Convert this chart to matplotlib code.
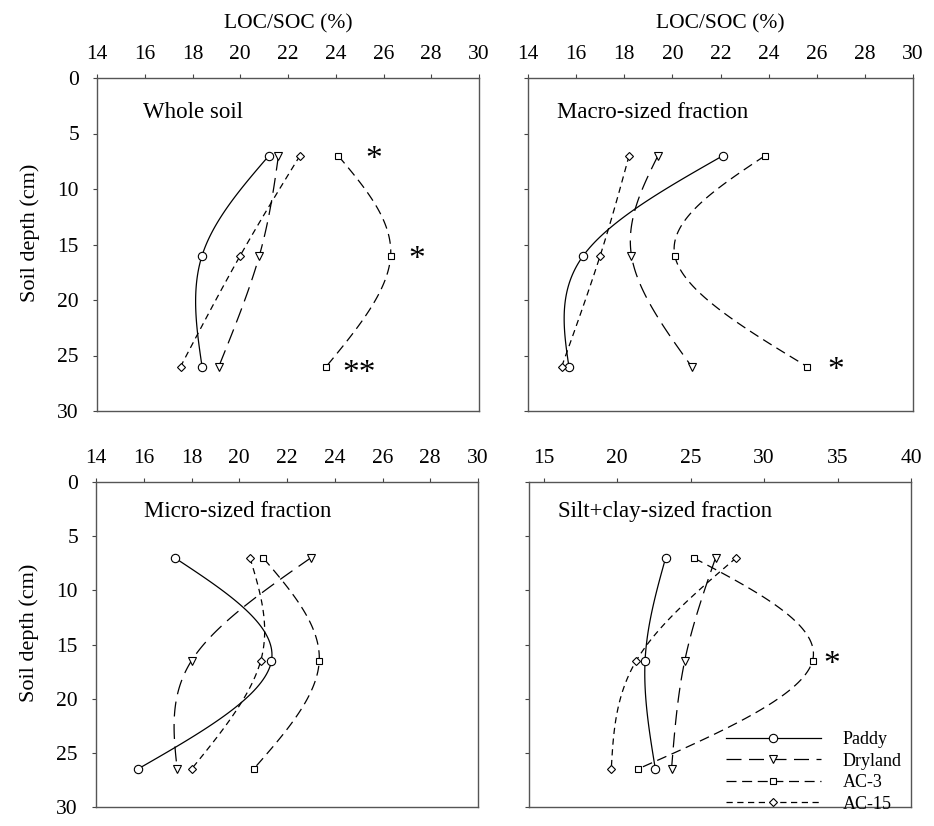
import numpy as np
import matplotlib
matplotlib.use('Agg')
import matplotlib.pyplot as plt

plt.rcParams['font.family'] = ['Liberation Serif', 'DejaVu Serif']

# sampling depths (cm) as plotted in the two rows
depth_top = [7, 16, 26]
depth_bottom = [7, 16.5, 26.5]

series = ['Paddy', 'Dryland', 'AC-3', 'AC-15']

# LOC/SOC (%) for each treatment
whole = {'Paddy': [21.2, 18.4, 18.4], 'Dryland': [21.6, 20.8, 19.1],
         'AC-3': [24.1, 26.3, 23.6], 'AC-15': [22.5, 20.0, 17.5]}
macro = {'Paddy': [22.1, 16.3, 15.7], 'Dryland': [19.4, 18.3, 20.8],
         'AC-3': [23.85, 20.1, 25.6], 'AC-15': [18.2, 17.0, 15.4]}
micro = {'Paddy': [17.3, 21.35, 15.75], 'Dryland': [23.0, 18.0, 17.4],
         'AC-3': [21.0, 23.35, 20.6], 'AC-15': [20.45, 20.9, 18.0]}
siltclay = {'Paddy': [23.3, 21.9, 22.6], 'Dryland': [26.7, 24.6, 23.7],
            'AC-3': [25.2, 33.3, 21.4], 'AC-15': [28.1, 21.3, 19.6]}

# significance marks: (text, LOC/SOC, depth)
marks_whole = [('*', 25.6, 7), ('*', 27.4, 16), ('**', 25.0, 26.3)]
marks_macro = [('*', 26.8, 26)]
marks_micro = []
marks_siltclay = [('*', 34.6, 16.5)]

styles = {
    'Paddy': dict(ls='-', marker='o', ms=6),
    'Dryland': dict(ls=(0, (12, 6)), marker='v', ms=6),
    'AC-3': dict(ls=(0, (8, 4.5)), marker='s', ms=5),
    'AC-15': dict(ls=(0, (5, 3.6)), marker='D', ms=4.5),
}

W, H = 934, 826
fig = plt.figure(figsize=(W / 100, H / 100), dpi=100)


def box(x0, y0, x1, y1):
    return [x0 / W, 1 - y1 / H, (x1 - x0) / W, (y1 - y0) / H]


def spline3(p):
    # natural cubic spline through 3 points, parameter t = 0, 1, 2
    p0, p1, p2 = p
    m1 = 1.5 * (p0 - 2 * p1 + p2)
    s = np.linspace(0, 1, 40)
    seg1 = p0 + ((p1 - p0) - m1 / 6) * s + (m1 / 6) * s ** 3
    seg2 = p1 + ((p2 - p1) - m1 / 3) * s + (m1 / 2) * s ** 2 - (m1 / 6) * s ** 3
    return np.concatenate([seg1, seg2[1:]])


def panel(rect, data, depth, title, tpos, marks, xlim, xticks, ylabels, xlabel):
    ax = fig.add_axes(rect)
    for name in series:
        st = styles[name]
        ax.plot(spline3(data[name]), spline3(depth), color='black', lw=0.9, ls=st['ls'])
        ax.plot(data[name], depth, ls='none', marker=st['marker'], ms=st['ms'],
                mfc='white', mec='black', mew=0.8)
        ax.plot([], [], color='black', lw=0.9, ls=st['ls'], marker=st['marker'],
                ms=st['ms'], mfc='white', mec='black', mew=0.8, label=name)
    ax.set_xlim(*xlim)
    ax.set_ylim(30, 0)
    ax.set_xticks(xticks)
    ax.set_yticks(range(0, 31, 5))
    ax.xaxis.tick_top()
    ax.tick_params(axis='both', direction='out', length=3, width=0.8,
                   colors='#444444', labelcolor='black', labelsize=15.5)
    ax.tick_params(axis='x', pad=7)
    ax.tick_params(axis='y', pad=10)
    if not ylabels:
        ax.set_yticklabels([])
    else:
        ax.set_ylabel('Soil depth (cm)', fontsize=16)
        ax.yaxis.set_label_coords(-0.148, 0.535)
    if xlabel:
        ax.set_xlabel('LOC/SOC (%)', fontsize=15.5, labelpad=12)
        ax.xaxis.set_label_position('top')
    for sp in ax.spines.values():
        sp.set_color('#555555')
        sp.set_linewidth(1.0)
    ax.text(tpos[0], tpos[1], title, transform=ax.transAxes, fontsize=16.5,
            ha='left', va='center')
    for t, x, y in marks:
        ax.annotate(t, (x, y), xytext=(0, -9), textcoords='offset points',
                    fontsize=24, ha='center', va='baseline')
    return ax


panel(box(97, 78, 479, 411), whole, depth_top, 'Whole soil', (0.12, 0.895),
      marks_whole, (14, 30), range(14, 31, 2), True, True)
panel(box(528, 78, 913, 411), macro, depth_top, 'Macro-sized fraction', (0.075, 0.895),
      marks_macro, (14, 30), range(14, 31, 2), False, True)
panel(box(96, 482, 478, 807), micro, depth_bottom, 'Micro-sized fraction', (0.126, 0.908),
      marks_micro, (14, 30), range(14, 31, 2), True, False)
ax4 = panel(box(529, 482, 911, 807), siltclay, depth_bottom, 'Silt+clay-sized fraction',
            (0.076, 0.908), marks_siltclay, (14, 40), range(15, 41, 5), False, False)
ax4.legend(loc='lower right', bbox_to_anchor=(1.0, -0.045), frameon=False, fontsize=13,
           handlelength=5.3, handletextpad=1.2, labelspacing=0.25, borderaxespad=0.1,
           numpoints=1)

fig.savefig('out.png', dpi=100)
